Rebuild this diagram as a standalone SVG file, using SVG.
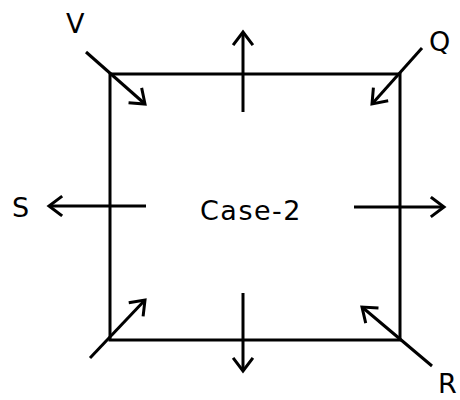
<svg xmlns="http://www.w3.org/2000/svg" width="460" height="400" viewBox="0 0 460 400">
<style>
.ln{stroke:#000;stroke-width:3;fill:none}
.ar{stroke:#000;stroke-width:3;fill:none;marker-end:url(#h)}
.lb{font-family:"DejaVu Sans",Verdana,sans-serif;font-size:27px;fill:#000}
</style>
<defs>
<marker id="h" markerUnits="userSpaceOnUse" markerWidth="30" markerHeight="30" viewBox="-15 -15 30 30" refX="0" refY="0" orient="auto">
<path d="M-12,-9 L0,0 L-12,9" stroke="#000" stroke-width="3" fill="none" stroke-linecap="square"/>
</marker>
</defs>
<g id="box"><rect class="ln" x="110" y="74" width="290" height="266"/></g>
<g id="connectors">
<line class="ar" x1="86" y1="52" x2="145" y2="104"/>
<line class="ar" x1="422" y1="48" x2="372" y2="104"/>
<line class="ar" x1="146" y1="206" x2="49" y2="206"/>
<line class="ar" x1="354" y1="207" x2="444" y2="207"/>
<line class="ar" x1="243" y1="112" x2="243" y2="32"/>
<line class="ar" x1="243" y1="293" x2="243" y2="371"/>
<line class="ar" x1="90" y1="358" x2="145" y2="300"/>
<line class="ar" x1="432" y1="366" x2="362" y2="307"/>
</g>
<g id="labels">
<text class="lb" x="66" y="33">V</text>
<text class="lb" x="429" y="51">Q</text>
<text class="lb" x="12" y="217">S</text>
<text class="lb" x="438" y="393">R</text>
<text class="lb" x="200" y="220" letter-spacing="1.5">Case-2</text>
</g>
</svg>
